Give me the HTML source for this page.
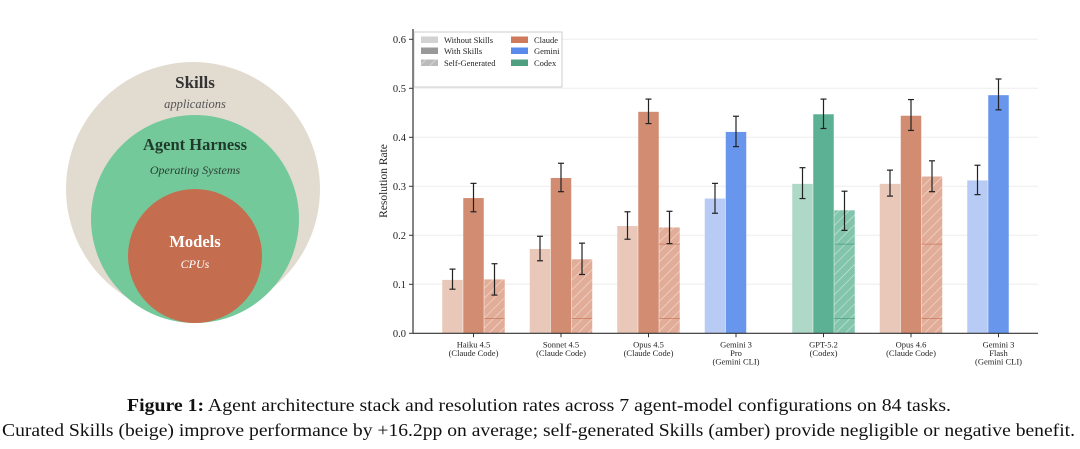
<!DOCTYPE html>
<html><head><meta charset="utf-8"><style>
body{margin:0;background:#fff;width:1080px;height:449px;overflow:hidden;font-family:"Liberation Serif",serif}
svg{position:absolute;left:0;top:0}
</style></head><body>
<svg width="1080" height="449" viewBox="0 0 1080 449" xmlns="http://www.w3.org/2000/svg" font-family="Liberation Serif, serif">
<defs>
<pattern id="hatch" patternUnits="userSpaceOnUse" width="7" height="7" patternTransform="rotate(45)">
<line x1="0" y1="0" x2="0" y2="7" stroke="#fff" stroke-opacity="0.6" stroke-width="1.2"/>
</pattern>
</defs>
<g>
<circle cx="193" cy="189" r="127" fill="#e2dbd0"/>
<circle cx="195" cy="219" r="104" fill="#74c99a"/>
<circle cx="195" cy="256" r="67" fill="#c46e4f"/>
<text x="195" y="88" text-anchor="middle" font-weight="bold" font-size="17" fill="#333">Skills</text>
<text x="195" y="108" text-anchor="middle" font-style="italic" font-size="12.5" fill="#555">applications</text>
<text x="195" y="150" text-anchor="middle" font-weight="bold" font-size="16.5" fill="#1f3a2c">Agent Harness</text>
<text x="195" y="174" text-anchor="middle" font-style="italic" font-size="12" fill="#2b3f33">Operating Systems</text>
<text x="195" y="247" text-anchor="middle" font-weight="bold" font-size="16.5" fill="#fff">Models</text>
<text x="195" y="268" text-anchor="middle" font-style="italic" font-size="12" fill="#fff">CPUs</text>
</g>
<g id="chart"></g>
<text x="127" y="411" textLength="824" lengthAdjust="spacingAndGlyphs" font-size="18" fill="#111"><tspan font-weight="bold">Figure 1:</tspan> Agent architecture stack and resolution rates across 7 agent-model configurations on 84 tasks.</text>
<text x="2" y="436" textLength="1073" lengthAdjust="spacingAndGlyphs" font-size="18" fill="#111">Curated Skills (beige) improve performance by +16.2pp on average; self-generated Skills (amber) provide negligible or negative benefit.</text>
</svg>
<script>
const categories=[["Haiku 4.5","(Claude Code)"],["Sonnet 4.5","(Claude Code)"],["Opus 4.5","(Claude Code)"],["Gemini 3","Pro","(Gemini CLI)"],["GPT-5.2","(Codex)"],["Opus 4.6","(Claude Code)"],["Gemini 3","Flash","(Gemini CLI)"]];
const families=["claude","claude","claude","gemini","codex","claude","gemini"];
const withoutVals=[0.109,0.172,0.219,0.275,0.305,0.305,0.312];
const withoutLo=[0.090,0.148,0.192,0.245,0.275,0.280,0.283];
const withoutHi=[0.131,0.198,0.248,0.306,0.338,0.333,0.343];
const withVals=[0.276,0.317,0.452,0.411,0.447,0.444,0.486];
const withLo=[0.248,0.289,0.428,0.381,0.418,0.414,0.456];
const withHi=[0.306,0.347,0.478,0.443,0.478,0.477,0.519];
const selfVals=[0.110,0.151,0.216,null,0.251,0.320,null];
const selfLo=[0.078,0.120,0.183,null,0.210,0.289,null];
const selfHi=[0.142,0.184,0.249,null,0.290,0.352,null];
const yTicks=[0,0.1,0.2,0.3,0.4,0.5,0.6];
const yTickLabels=["0.0","0.1","0.2","0.3","0.4","0.5","0.6"];

const NS="http://www.w3.org/2000/svg";
const g=document.getElementById('chart');
const X0=413,X1=1038,Y0=333.3,PPU=490;
const y=v=>Y0-v*PPU;
const xc=i=>473.5+87.5*i;
const BW=20.5;
const col={claude:["#e9c7b9","#d28c71","#e2ad98","#c9785c"],gemini:["#b8cbf4","#6896ec","#9ab5f0","#5a86e0"],codex:["#aed9c9","#5cb094","#82c4ac","#4a9e82"]};
function el(t,a,p){const e=document.createElementNS(NS,t);for(const k in a)e.setAttribute(k,a[k]);(p||g).appendChild(e);return e;}
yTicks.forEach((t,i)=>{
 if(t>0){const l=el('line',{x1:X0,x2:X1,y1:y(t),y2:y(t),stroke:"#eee","stroke-width":1});
 
 }
 const tk=el('line',{x1:X0-4,x2:X0,y1:y(t),y2:y(t),stroke:"#333"});
 
 
 const tx=el('text',{x:X0-7,y:y(t)+3.5,"text-anchor":"end","font-size":"10.5",fill:"#222"});
 tx.textContent=yTickLabels[i];
 
 
});
function err(cx,lo,hi){
 const a=el('line',{x1:cx,x2:cx,y1:y(lo),y2:y(hi),stroke:"#222","stroke-width":1.2});
 
 
 [lo,hi].forEach(v=>{const c=el('line',{x1:cx-3,x2:cx+3,y1:y(v),y2:y(v),stroke:"#222","stroke-width":1.2});
 
 });
}
categories.forEach((c,i)=>{
 const f=col[families[i]];const cx=xc(i);
 const b1=el('rect',{x:cx-21-BW/2,y:y(withoutVals[i]),width:BW,height:withoutVals[i]*PPU,fill:f[0]});
 
 
 const b2=el('rect',{x:cx-BW/2,y:y(withVals[i]),width:BW,height:withVals[i]*PPU,fill:f[1]});
 
 
 if(selfVals[i]!=null){
  const sx=cx+21-BW/2;
  const b3=el('rect',{x:sx,y:y(selfVals[i]),width:BW,height:selfVals[i]*PPU,fill:f[2]});
  
  
  const h=el('rect',{x:sx,y:y(selfVals[i]),width:BW,height:selfVals[i]*PPU,fill:"url(#hatch)"});
  
  
  [0.03,0.182].forEach(v=>{if(v<selfVals[i]){const d=el('line',{x1:sx,x2:sx+BW,y1:y(v),y2:y(v),stroke:f[3],"stroke-width":0.8});
  
  }});
  err(cx+21,selfLo[i],selfHi[i]);
 }
 err(cx-21,withoutLo[i],withoutHi[i]);
 err(cx,withLo[i],withHi[i]);
 const tk=el('line',{x1:cx,x2:cx,y1:Y0,y2:Y0+4,stroke:"#333"});
 
 
 c.forEach((s,j)=>{const t=el('text',{x:cx,y:Y0+14+j*8.5,"text-anchor":"middle","font-size":"8.5",fill:"#222"});
 t.textContent=s;
 
 });
});
const ax=el('line',{x1:X0,x2:X0,y1:29,y2:Y0,stroke:"#333","stroke-width":1.2});


const bx=el('line',{x1:X0,x2:X1,y1:Y0,y2:Y0,stroke:"#333","stroke-width":1.2});


const yt=el('text',{x:0,y:0,transform:"translate(387,181) rotate(-90)","text-anchor":"middle","font-size":"11.5",fill:"#222"});
yt.textContent="Resolution Rate";


const lg=el('g',{});


el('rect',{x:414,y:32,width:148,height:55,fill:"#fff",stroke:"#ccc"},lg);
const legItems=[["Without Skills","#d2d2d2",421,40,false],["With Skills","#999",421,51,false],["Self-Generated","#bbb",421,63,true],["Claude","#d07a5c",511,40,false],["Gemini","#5a8aec",511,51,false],["Codex","#4f9e80",511,63,false]];
legItems.forEach(it=>{
 const e=el('g',{},lg);
 
 
 el('rect',{x:it[2],y:it[3]-3.5,width:17,height:6.5,fill:it[1]},e);
 if(it[4])el('rect',{x:it[2],y:it[3]-3.5,width:17,height:6.5,fill:"url(#hatch)"},e);
 const t=el('text',{x:it[2]+23,y:it[3]+3,"font-size":"8.5",fill:"#222"},e);t.textContent=it[0];
});
</script>
</body></html>
